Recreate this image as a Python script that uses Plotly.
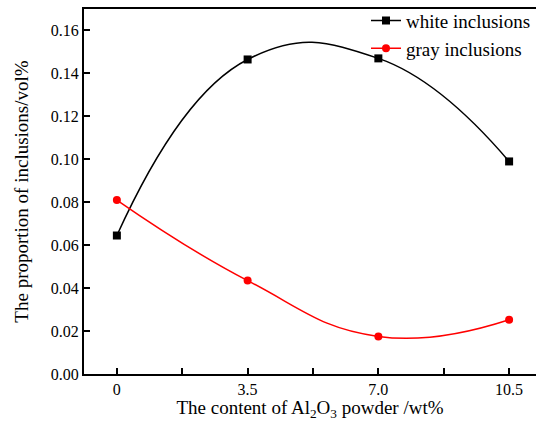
import plotly.graph_objects as go

x_vals = [0, 3.5, 7.0, 10.5]
white = [0.0645, 0.1465, 0.147, 0.099]
gray = [0.081, 0.0435, 0.0175, 0.0253]
x_tickvals = [0, 1.75, 3.5, 5.25, 7.0, 8.75, 10.5]
x_ticktext = ["0", "", "3.5", "", "7.0", "", "10.5"]

font = "Liberation Serif, Times New Roman, serif"

fig = go.Figure()
fig.add_trace(go.Scatter(
    x=x_vals, y=white, mode="lines+markers", name="white inclusions",
    line=dict(color="black", width=1.5, shape="spline", smoothing=1.3),
    marker=dict(symbol="square", size=8, color="black")))
fig.add_trace(go.Scatter(
    x=x_vals, y=gray, mode="lines+markers", name="gray inclusions",
    line=dict(color="red", width=1.5, shape="spline", smoothing=1.3),
    marker=dict(symbol="circle", size=8, color="red")))

fig.update_layout(
    width=536, height=421,
    margin=dict(l=84, r=0, t=9, b=47, autoexpand=False),
    paper_bgcolor="white", plot_bgcolor="white",
    font=dict(family=font, size=16, color="black"),
    showlegend=True,
    legend=dict(x=1.0, y=1.02, xanchor="right", yanchor="top",
                bgcolor="rgba(0,0,0,0)", font=dict(size=19, family=font),
                tracegroupgap=0, itemwidth=30),
    xaxis=dict(range=[-0.88, 11.22], tickvals=x_tickvals, ticktext=x_ticktext,
               ticks="inside", ticklen=6, tickwidth=2, tickcolor="black",
               showline=True, linewidth=2, linecolor="black", mirror=True,
               showgrid=False, zeroline=False,
               tickfont=dict(size=16, family=font),
               title=dict(text="The content of Al<sub>2</sub>O<sub>3</sub> powder /wt%",
                          font=dict(size=19, family=font), standoff=2)),
    yaxis=dict(range=[0, 0.17], dtick=0.02, tick0=0, tickformat=".2f",
               ticks="inside", ticklen=6, tickwidth=2, tickcolor="black",
               showline=True, linewidth=2, linecolor="black",
               showgrid=False, zeroline=False,
               tickfont=dict(size=16, family=font),
               title=dict(text="The proportion of inclusions/vol%",
                          font=dict(size=19, family=font), standoff=17)),
)

fig.write_html("out.html")
